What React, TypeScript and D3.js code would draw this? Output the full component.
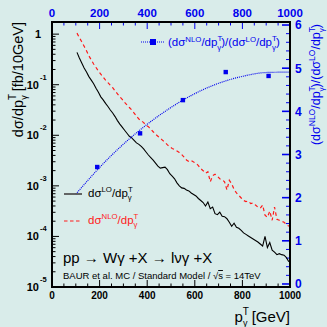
import React from 'react';
import * as d3 from 'd3';

// pT bin centres (GeV), 10 GeV bins
const ptBins: number[] = [
  105, 115, 125, 135, 145, 155, 165, 175, 185, 195,
  205, 215, 225, 235, 245, 255, 265, 275, 285, 295,
  305, 315, 325, 335, 345, 355, 365, 375, 385, 395,
  405, 415, 425, 435, 445, 455, 465, 475, 485, 495,
  505, 515, 525, 535, 545, 555, 565, 575, 585, 595,
  605, 615, 625, 635, 645, 655, 665, 675, 685, 695,
  705, 715, 725, 735, 745, 755, 765, 775, 785, 795,
  805, 815, 825, 835, 845, 855, 865, 875, 885, 895,
  905, 915, 925, 935, 945, 955, 965, 975, 985, 995,
];

// log10 of dsigma/dpT [fb/10GeV]
const loLog10: number[] = [
  -0.36, -0.47, -0.57, -0.67, -0.75, -0.84, -0.91, -0.98, -1.07, -1.15,
  -1.24, -1.30, -1.37, -1.43, -1.50, -1.56, -1.63, -1.71, -1.78, -1.84,
  -1.90, -1.96, -2.02, -2.05, -2.10, -2.15, -2.18, -2.22, -2.27, -2.33,
  -2.39, -2.44, -2.49, -2.55, -2.61, -2.65, -2.64, -2.63, -2.68, -2.76,
  -2.81, -2.86, -2.94, -3.00, -3.04, -3.05, -3.08, -3.10, -3.14, -3.17,
  -3.20, -3.25, -3.29, -3.33, -3.40, -3.32, -3.45, -3.42, -3.55, -3.57,
  -3.52, -3.60, -3.61, -3.65, -3.72, -3.80, -3.74, -3.82, -3.84, -3.88,
  -3.93, -3.96, -3.99, -4.02, -4.05, -4.08, -4.11, -4.15, -4.19, -4.00,
  -4.22, -4.12, -4.27, -4.31, -4.36, -4.34, -4.36, -4.37, -4.42, -4.50,
];

const nloLog10: number[] = [
  0.02, -0.07, -0.15, -0.24, -0.33, -0.43, -0.51, -0.59, -0.66, -0.73,
  -0.79, -0.85, -0.91, -0.96, -1.01, -1.06, -1.12, -1.18, -1.24, -1.29,
  -1.35, -1.40, -1.45, -1.50, -1.56, -1.62, -1.68, -1.71, -1.75, -1.80,
  -1.83, -1.88, -1.93, -1.98, -2.02, -2.06, -2.10, -2.14, -2.19, -2.23,
  -2.26, -2.28, -2.31, -2.34, -2.38, -2.43, -2.49, -2.52, -2.50, -2.53,
  -2.55, -2.60, -2.66, -2.70, -2.75, -2.72, -2.92, -2.80, -2.77, -2.81,
  -2.86, -2.88, -2.92, -3.08, -2.89, -2.96, -3.07, -3.14, -3.19, -3.24,
  -3.29, -3.31, -3.30, -3.35, -3.34, -3.38, -3.42, -3.44, -3.38, -3.58,
  -3.62, -3.50, -3.68, -3.42, -3.66, -3.68, -3.70, -3.72, -3.76, -3.80,
];

// NLO/LO ratio points (180 GeV wide bins)
const ratioPt: number[] = [190, 370, 550, 730, 910];
const ratioVal: number[] = [2.71, 3.49, 4.26, 4.91, 4.82];

// fitted ratio curve
const fitPt: number[] = [100, 200, 300, 400, 500, 600, 700, 800, 900, 1000];
const fitVal: number[] = [2.08, 2.70, 3.24, 3.70, 4.09, 4.41, 4.65, 4.81, 4.90, 4.91];

const xTicks: number[] = [0, 200, 400, 600, 800, 1000];
const yDecades: number[] = [0, -1, -2, -3, -4, -5];
const rTicks: number[] = [0, 1, 2, 3, 4, 5, 6];

const BG = '#d9ecea';
const BLUE = '#0000ee';
const RED = '#ff1a1a';
const FONT = 'Liberation Sans, Arial, Helvetica, sans-serif';

export default function App() {
  const W = 327;
  const H = 327;
  const left = 52;
  const right = 290;
  const top = 22;
  const bottom = 287;

  const x = d3.scaleLinear().domain([0, 1000]).range([left, right]);
  const y = d3.scaleLog().domain([1e-5, Math.pow(10, 0.24)]).range([bottom, top]);
  const yr = d3.scaleLinear().domain([-0.07, 6.07]).range([bottom, top]);

  const loData = ptBins.map((p, i) => ({ p, v: Math.pow(10, loLog10[i]) }));
  const nloData = ptBins.map((p, i) => ({ p, v: Math.pow(10, nloLog10[i]) }));
  const fitData = fitPt.map((p, i) => ({ p, v: fitVal[i] }));

  const logLine = d3
    .line<{ p: number; v: number }>()
    .x(d => x(d.p))
    .y(d => y(d.v));

  const fitLine = d3
    .line<{ p: number; v: number }>()
    .x(d => x(d.p))
    .y(d => yr(d.v))
    .curve(d3.curveMonotoneX);

  // minor ticks
  const xMinor = d3.range(0, 1001, 50).filter(v => v % 200 !== 0);
  const yMinor: number[] = [];
  for (let e = -5; e <= 0; e++) {
    for (let k = 2; k <= 9; k++) {
      const v = k * Math.pow(10, e);
      if (y(v) >= top) yMinor.push(v);
    }
  }
  const rMinor = d3.range(0, 6.01, 0.2).filter(v => Math.abs(v - Math.round(v)) > 0.01);

  // dσ^X/dp^T_γ legend label
  const dsig = (upper: string, color: string, fs: number, px: number, py: number) => (
    <text x={px} y={py} fill={color} fontSize={fs} fontFamily={FONT}>
      dσ
      <tspan dy={-fs * 0.4} fontSize={fs * 0.68}>{upper}</tspan>
      <tspan dy={fs * 0.4}>/dp</tspan>
      <tspan dy={-fs * 0.45} fontSize={fs * 0.68}>T</tspan>
      <tspan dy={fs * 0.75} dx={-fs * 0.42} fontSize={fs * 0.68}>γ</tspan>
    </text>
  );

  return (
    <div style={{ position: 'fixed', left: 0, top: 0, width: W, height: H, background: BG }}>
      <svg width={W} height={H} style={{ display: 'block' }}>
        <rect x={0} y={0} width={W} height={H} fill={BG} />

        {/* bottom / top axis ticks and labels */}
        {xTicks.map(t => (
          <g key={'xb' + t}>
            <line x1={x(t)} x2={x(t)} y1={bottom} y2={bottom - 7} stroke="#000" strokeWidth={1} />
            <text x={x(t)} y={299} textAnchor="middle" fontSize={10} fontWeight="bold" fontFamily={FONT} fill="#000">
              {t}
            </text>
            <line x1={x(t)} x2={x(t)} y1={top} y2={top + 7} stroke={BLUE} strokeWidth={1} />
            <text x={x(t)} y={17} textAnchor="middle" fontSize={11.5} fontWeight="bold" fontFamily={FONT} fill={BLUE}>
              {t}
            </text>
          </g>
        ))}
        {xMinor.map(t => (
          <g key={'xm' + t}>
            <line x1={x(t)} x2={x(t)} y1={bottom} y2={bottom - 3.5} stroke="#000" strokeWidth={1} />
            <line x1={x(t)} x2={x(t)} y1={top} y2={top + 3.5} stroke={BLUE} strokeWidth={1} />
          </g>
        ))}

        {/* left log axis */}
        {yDecades.map(e => {
          const yy = y(Math.pow(10, e));
          return (
            <g key={'yd' + e}>
              <line x1={left} x2={left + 7} y1={yy} y2={yy} stroke="#000" strokeWidth={1} />
              {e === 0 ? (
                <text x={41} y={yy} dy="0.35em" textAnchor="end" fontSize={11} fontWeight="bold" fontFamily={FONT}>1</text>
              ) : (
                <g>
                  <text x={39} y={yy} dy="0.35em" textAnchor="end" fontSize={11} fontWeight="bold" fontFamily={FONT}>10</text>
                  <text x={40} y={yy - 5} textAnchor="start" fontSize={7.5} fontWeight="bold" fontFamily={FONT}>{e}</text>
                </g>
              )}
            </g>
          );
        })}
        {yMinor.map((v, i) => (
          <line key={'ym' + i} x1={left} x2={left + 3.5} y1={y(v)} y2={y(v)} stroke="#000" strokeWidth={1} />
        ))}

        {/* right ratio axis */}
        {rTicks.map(t => (
          <g key={'r' + t}>
            <line x1={right} x2={right - 8} y1={yr(t)} y2={yr(t)} stroke={BLUE} strokeWidth={1.6} />
            <text x={295} y={yr(t)} dy="0.36em" fontSize={12} fontWeight="bold" fontFamily={FONT} fill={BLUE}>{t}</text>
          </g>
        ))}
        {rMinor.map((t, i) => (
          <line key={'rm' + i} x1={right} x2={right - 4} y1={yr(t)} y2={yr(t)} stroke={BLUE} strokeWidth={1} />
        ))}

        {/* curves */}
        <path d={logLine(loData) || ''} fill="none" stroke="#000" strokeWidth={1.1} />
        <path d={logLine(nloData) || ''} fill="none" stroke={RED} strokeWidth={1.2} strokeDasharray="3.5,3" />
        <path d={fitLine(fitData) || ''} fill="none" stroke={BLUE} strokeWidth={1.2} strokeDasharray="1,1" />
        {ratioPt.map((p, i) => (
          <rect key={'sq' + i} x={x(p) - 2.2} y={yr(ratioVal[i]) - 2.2} width={4.4} height={4.4} fill={BLUE} />
        ))}

        {/* frame */}
        <rect x={left} y={top} width={right - left} height={bottom - top} fill="none" stroke="#000" strokeWidth={2} />

        {/* top legend */}
        <line x1={141} x2={164} y1={42} y2={42} stroke={BLUE} strokeWidth={1.2} strokeDasharray="1,1" />
        <rect x={150} y={39} width={6} height={6} fill={BLUE} />
        <text x={168} y={46} fill={BLUE} fontSize={11.5} fontFamily={FONT}>
          (dσ
          <tspan dy={-4.5} fontSize={7.8}>NLO</tspan>
          <tspan dy={4.5}>/dp</tspan>
          <tspan dy={-5} fontSize={7.8}>T</tspan>
          <tspan dy={8.5} dx={-4.8} fontSize={7.8}>γ</tspan>
          <tspan dy={-3.5}>)/(dσ</tspan>
          <tspan dy={-4.5} fontSize={7.8}>LO</tspan>
          <tspan dy={4.5}>/dp</tspan>
          <tspan dy={-5} fontSize={7.8}>T</tspan>
          <tspan dy={8.5} dx={-4.8} fontSize={7.8}>γ</tspan>
          <tspan dy={-3.5}>)</tspan>
        </text>

        {/* bottom-left legend */}
        <line x1={64} x2={82} y1={194} y2={194} stroke="#555" strokeWidth={1.8} />
        {dsig('LO', '#000', 11.5, 88, 197)}
        <line x1={64} x2={82} y1={221} y2={221} stroke={RED} strokeWidth={1.2} strokeDasharray="3.5,2.5" />
        {dsig('NLO', RED, 11.5, 88, 224)}

        {/* process text */}
        <text x={63} y={263} fontSize={15} fontFamily={FONT} fill="#000">
          pp → Wγ +X → lνγ +X
        </text>
        <text x={63} y={279} fontSize={9.5} fontFamily={FONT} fill="#000">
          BAUR et al. MC /  Standard Model / √
          <tspan textDecoration="overline">s</tspan> = 14TeV
        </text>

        {/* x label */}
        <text x={290} y={322} textAnchor="end" fontSize={15} fontFamily={FONT} fill="#000">
          p
          <tspan dy={-7} fontSize={10}>T</tspan>
          <tspan dy={11} dx={-6} fontSize={9}>γ</tspan>
          <tspan dy={-4}> [GeV]</tspan>
        </text>

        {/* left y label */}
        <text transform="translate(23,22) rotate(-90)" textAnchor="end" fontSize={14.5} fontFamily={FONT} fill="#000">
          dσ/dp
          <tspan dy={-7} fontSize={10}>T</tspan>
          <tspan dy={11} dx={-6} fontSize={9}>γ</tspan>
          <tspan dy={-4}> [fb/10GeV]</tspan>
        </text>

        {/* right y label */}
        <text transform="translate(320,24) rotate(-90)" textAnchor="end" fontSize={12.5} fontFamily={FONT} fill={BLUE}>
          (dσ
          <tspan dy={-5} fontSize={8.5}>NLO</tspan>
          <tspan dy={5}>/dp</tspan>
          <tspan dy={-5.5} fontSize={8.5}>T</tspan>
          <tspan dy={9} dx={-5.2} fontSize={8}>γ</tspan>
          <tspan dy={-3.5}>)/(dσ</tspan>
          <tspan dy={-5} fontSize={8.5}>LO</tspan>
          <tspan dy={5}>/dp</tspan>
          <tspan dy={-5.5} fontSize={8.5}>T</tspan>
          <tspan dy={9} dx={-5.2} fontSize={8}>γ</tspan>
          <tspan dy={-3.5}>)</tspan>
        </text>
      </svg>
    </div>
  );
}
